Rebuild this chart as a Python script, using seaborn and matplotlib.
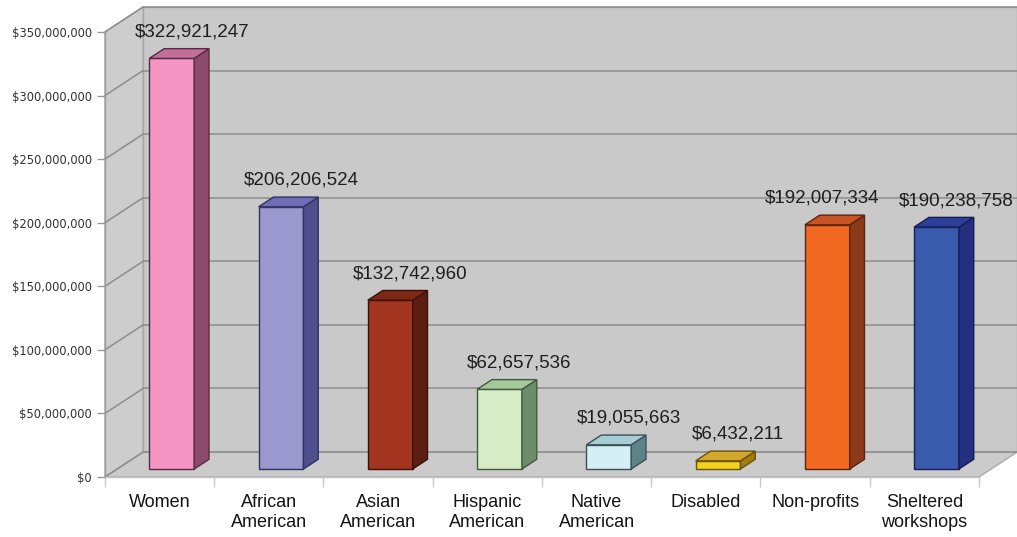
import numpy as np
import pandas as pd
import matplotlib
matplotlib.use("Agg")
import matplotlib.pyplot as plt
from matplotlib.patches import Polygon
from matplotlib.lines import Line2D
import seaborn as sns

# ---- data -------------------------------------------------------------
categories = ["Women", "African\nAmerican", "Asian\nAmerican", "Hispanic\nAmerican",
              "Native\nAmerican", "Disabled", "Non-profits", "Sheltered\nworkshops"]
values = [322921247, 206206524, 132742960, 62657536,
          19055663, 6432211, 192007334, 190238758]
y_ticks = [0, 50e6, 100e6, 150e6, 200e6, 250e6, 300e6, 350e6]

# face colours of each box: front, right side, top
front_colors = ["#f495c3", "#9b97cf", "#a3341f", "#d6ecc6",
                "#d6eff5", "#f2d21c", "#f26a22", "#3a5aad"]
side_colors = ["#8c4a6c", "#4f4f8f", "#5b1e10", "#6b8d68",
               "#5f8288", "#a07c12", "#8b3a1a", "#252f80"]
top_colors = ["#c26f9a", "#6f6db5", "#7e2816", "#a6c99a",
              "#a6cdd4", "#d2a82c", "#c95322", "#2e3f99"]
edge_colors = ["#5a2a44", "#33335e", "#3a120a", "#3f5a3d",
               "#3a5257", "#6a5208", "#5a240f", "#161d55"]

df = pd.DataFrame({"category": categories, "value": values})

# ---- style ------------------------------------------------------------
sns.set_theme(style="white")
plt.rcParams["font.family"] = ["Liberation Sans", "DejaVu Sans"]

W, H, DPI = 1017, 537, 100
fig = plt.figure(figsize=(W / DPI, H / DPI), dpi=DPI)
fig.patch.set_facecolor("white")
ax = fig.add_axes([105 / W, 60 / H, 912 / W, 470 / H])
ax.set_facecolor("none")

# depth of the 3-D box in data units (x: categories, y: dollars)
DX = 0.348
DY = 19.6e6
TOP = y_ticks[-1]
n = len(categories)
x_lo, x_hi = -0.5, n - 0.5

# ---- walls and floor --------------------------------------------------
wall_edge = "#a9a9a9"
back = Polygon([(x_lo + DX, DY), (x_hi + DX, DY), (x_hi + DX, TOP + DY), (x_lo + DX, TOP + DY)],
               closed=True, facecolor="#c9c9c9", edgecolor=wall_edge, lw=1, zorder=0)
side = Polygon([(x_lo, 0), (x_lo + DX, DY), (x_lo + DX, TOP + DY), (x_lo, TOP)],
               closed=True, facecolor="#cdcdcd", edgecolor=wall_edge, lw=1, zorder=0)
floor = Polygon([(x_lo, 0), (x_hi, 0), (x_hi + DX, DY), (x_lo + DX, DY)],
                closed=True, facecolor="#cbcbcb", edgecolor=wall_edge, lw=1, zorder=0)
for p in (back, side, floor):
    p.set_clip_on(False)
    ax.add_patch(p)

grid_c = "#8d8d8d"
for v in y_ticks:
    ax.add_line(Line2D([x_lo + DX, x_hi + DX], [v + DY, v + DY], color=grid_c, lw=1.1, zorder=0.5,
                       clip_on=False))
    ax.add_line(Line2D([x_lo, x_lo + DX], [v, v + DY], color=grid_c, lw=1.1, zorder=0.5,
                       clip_on=False))

# ---- bars (front faces) -----------------------------------------------
BAR_W = 0.41
F0 = 0.32     # depth position of the front face
T = 0.39      # depth thickness of each box

sns.barplot(data=df, x="category", y="value", hue="category", palette=front_colors,
            saturation=1, width=BAR_W, legend=False, ax=ax, zorder=3,
            linewidth=1.0, edgecolor="#333333")

# seaborn resets the category limits, so set the box extent afterwards
ax.set_xlim(x_lo, x_hi + DX)
ax.set_ylim(0, TOP + DY)

rects = [c.patches[0] for c in ax.containers]
labels = []
for i, r in enumerate(rects):
    x0 = r.get_x() + F0 * DX
    y0 = F0 * DY
    w = r.get_width()
    h = r.get_height()
    r.set_x(x0)
    r.set_y(y0)
    r.set_edgecolor(edge_colors[i])
    r.set_clip_on(False)
    side_face = Polygon([(x0 + w, y0), (x0 + w + T * DX, y0 + T * DY),
                         (x0 + w + T * DX, y0 + h + T * DY), (x0 + w, y0 + h)],
                        closed=True, facecolor=side_colors[i], edgecolor=edge_colors[i],
                        lw=1.0, zorder=3, clip_on=False)
    top_face = Polygon([(x0, y0 + h), (x0 + w, y0 + h),
                        (x0 + w + T * DX, y0 + h + T * DY), (x0 + T * DX, y0 + h + T * DY)],
                       closed=True, facecolor=top_colors[i], edgecolor=edge_colors[i],
                       lw=1.0, zorder=3, clip_on=False)
    ax.add_patch(side_face)
    ax.add_patch(top_face)

    # value label above the box
    lab = ax.annotate(f"${values[i]:,.0f}",
                      xy=(x0 + w / 2 + T * DX / 2, y0 + h + T * DY),
                      xytext=(9, 12), textcoords="offset points",
                      ha="center", va="center", fontsize=13.5, color="#1e1e1e",
                      annotation_clip=False, zorder=5)
    labels.append(lab)

# keep neighbouring value labels apart: when two labels nearly touch,
# slide the left one so there is a clear gap between them
fig.canvas.draw()
renderer = fig.canvas.get_renderer()
MIN_GAP_PX, GAP_PX = 8, 20
for i in range(n - 2, -1, -1):
    a = labels[i].get_window_extent(renderer)
    b = labels[i + 1].get_window_extent(renderer)
    vertical_overlap = a.y0 < b.y1 and b.y0 < a.y1
    if vertical_overlap and a.x1 + MIN_GAP_PX > b.x0:
        shift = a.x1 + GAP_PX - b.x0
        dx_pt, dy_pt = labels[i].xyann
        labels[i].xyann = (dx_pt - shift * 72 / DPI, dy_pt)

# ---- axes -------------------------------------------------------------
for s in ("top", "right"):
    ax.spines[s].set_visible(False)
ax.spines["left"].set_bounds(0, TOP)
ax.spines["left"].set_color("#9a9a9a")
ax.spines["left"].set_linewidth(1.0)
ax.spines["bottom"].set_bounds(x_lo, x_hi)
ax.spines["bottom"].set_color("#c4c4c4")
ax.spines["bottom"].set_linewidth(1.0)

ax.set_yticks(y_ticks)
ax.set_yticklabels([f"${v:,.0f}" for v in y_ticks], fontsize=8.3, color="#333333",
                   family="DejaVu Sans")
ax.tick_params(axis="y", left=True, length=6, width=1, color="#9a9a9a", pad=3.5)

ax.set_xticks(range(n))
ax.set_xticklabels(categories, fontsize=13, color="#141414", linespacing=1.25)
ax.set_xticks(np.arange(n + 1) - 0.5, minor=True)
ax.tick_params(axis="x", which="major", bottom=False, length=0, pad=12)
ax.tick_params(axis="x", which="minor", bottom=True, length=7, width=1, color="#c8c8c8")

ax.set_xlabel("")
ax.set_ylabel("")
ax.grid(False)

fig.savefig("out.png", dpi=DPI, facecolor="white")
